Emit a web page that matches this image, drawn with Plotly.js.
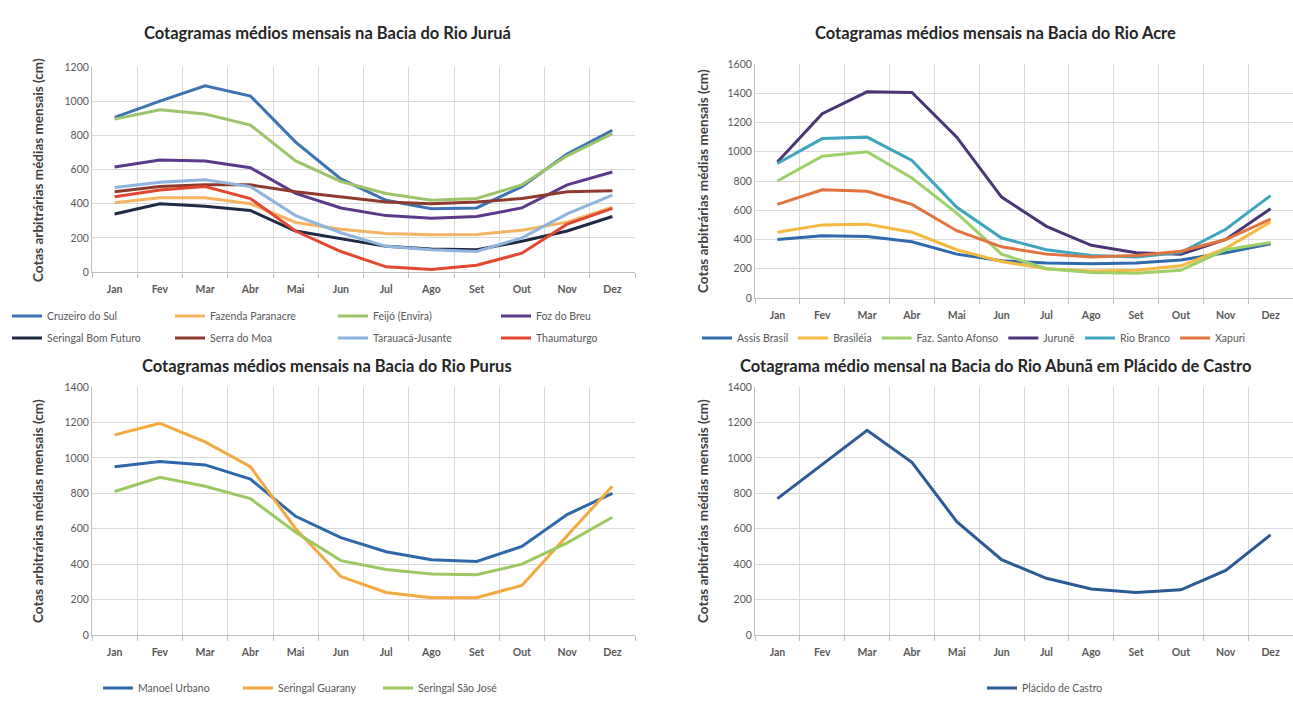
<!DOCTYPE html>
<html>
<head>
<meta charset="utf-8">
<script src="https://cdn.plot.ly/plotly-3.0.1.min.js"></script>
<style>
  html, body { margin: 0; padding: 0; background: #ffffff; }
  #chart { width: 1293px; height: 704px; }
</style>
</head>
<body>
<div id="chart"></div>
<script>
// ---------- data ----------
const months = ['Jan','Fev','Mar','Abr','Mai','Jun','Jul','Ago','Set','Out','Nov','Dez'];

// Bacia do Rio Juruá
const juruaNames = ['Cruzeiro do Sul','Fazenda Paranacre','Feijó (Envira)','Foz do Breu',
                    'Seringal Bom Futuro','Serra do Moa','Tarauacá-Jusante','Thaumaturgo'];
const cruzeiroDoSul    = [905, 1000, 1090, 1030, 760, 545, 420, 370, 375, 500, 690, 830];
const fazendaParanacre = [405, 435, 435, 400, 290, 250, 225, 218, 220, 245, 292, 380];
const feijoEnvira      = [895, 950, 925, 860, 650, 530, 460, 420, 430, 510, 680, 810];
const fozDoBreu        = [615, 655, 650, 610, 460, 375, 330, 315, 325, 375, 510, 585];
const seringalBomFuturo= [340, 400, 385, 360, 240, 195, 150, 135, 130, 180, 240, 325];
const serraDoMoa       = [470, 500, 510, 510, 470, 440, 410, 400, 410, 430, 470, 475];
const tarauacaJusante  = [495, 525, 540, 500, 330, 230, 150, 130, 120, 200, 340, 450];
const thaumaturgo      = [440, 480, 500, 430, 240, 120, 30, 15, 40, 110, 280, 372];

// Bacia do Rio Acre
const acreNames = ['Assis Brasil','Brasiléia','Faz. Santo Afonso','Jurunê','Rio Branco','Xapuri'];
const assisBrasil      = [400, 425, 420, 385, 300, 255, 240, 235, 240, 260, 310, 370];
const brasileia        = [450, 500, 505, 450, 330, 250, 200, 185, 190, 220, 340, 520];
const fazSantoAfonso   = [800, 970, 1000, 820, 580, 300, 200, 175, 170, 190, 330, 380];
const jurune           = [930, 1260, 1410, 1405, 1100, 690, 490, 360, 310, 300, 400, 610];
const rioBranco        = [920, 1090, 1100, 940, 620, 410, 330, 290, 280, 310, 470, 700];
const xapuri           = [640, 740, 730, 640, 460, 350, 300, 280, 290, 320, 400, 540];

// Bacia do Rio Purus
const purusNames = ['Manoel Urbano','Seringal Guarany','Seringal São José'];
const manoelUrbano     = [950, 980, 960, 880, 670, 550, 470, 425, 415, 500, 680, 800];
const seringalGuarany  = [1130, 1195, 1090, 950, 600, 330, 240, 210, 210, 280, 560, 840];
const seringalSaoJose  = [810, 890, 840, 770, 580, 420, 370, 345, 340, 400, 520, 665];

// Bacia do Rio Abunã
const abunaNames = ['Plácido de Castro'];
const placidoDeCastro  = [770, 960, 1155, 975, 640, 425, 320, 260, 240, 255, 365, 565];

const titles = [
  'Cotagramas médios mensais na Bacia do Rio Juruá',
  'Cotagramas médios mensais na Bacia do Rio Acre',
  'Cotagramas médios mensais na Bacia do Rio Purus',
  'Cotagrama médio mensal na Bacia do Rio Abunã em Plácido de Castro'
];
const yTitle = 'Cotas arbitrárias médias mensais (cm)';

// ---------- styles ----------
const juruaColors = ['#3D73B4','#F4B461','#9CC46A','#5B3A8C','#1E2B45','#8E3B2E','#8FB4DE','#E2472F'];
const acreColors  = ['#3069AC','#F5B840','#9ED06A','#4A3575','#3FA5BE','#E0733E'];
const purusColors = ['#2E68A8','#F2A93F','#9CC862'];
const abunaColors = ['#2C5A94'];

const W = 1293, H = 704;
const px = v => v / W;
const py = v => 1 - v / H;
const FONT = 'Lato, "Open Sans", sans-serif';

function mk(name, y, color, xa, ya, leg) {
  return { type: 'scatter', mode: 'lines', name: name, x: months, y: y,
           xaxis: xa, yaxis: ya, legend: leg,
           line: { color: color, width: 3 }, hoverinfo: 'skip' };
}

const juruaData = [cruzeiroDoSul, fazendaParanacre, feijoEnvira, fozDoBreu,
                   seringalBomFuturo, serraDoMoa, tarauacaJusante, thaumaturgo];
const acreData  = [assisBrasil, brasileia, fazSantoAfonso, jurune, rioBranco, xapuri];
const purusData = [manoelUrbano, seringalGuarany, seringalSaoJose];
const abunaData = [placidoDeCastro];

const traces = [];
juruaData.forEach((d, i) => traces.push(mk(juruaNames[i], d, juruaColors[i], 'x', 'y', i < 4 ? 'legend' : 'legend2')));
acreData.forEach((d, i) => traces.push(mk(acreNames[i], d, acreColors[i], 'x2', 'y2', 'legend3')));
purusData.forEach((d, i) => traces.push(mk(purusNames[i], d, purusColors[i], 'x3', 'y3', 'legend4')));
abunaData.forEach((d, i) => traces.push(mk(abunaNames[i], d, abunaColors[i], 'x4', 'y4', 'legend5')));

function xAxis(domain, anchor) {
  return {
    domain: domain, anchor: anchor, type: 'category', range: [-0.5, 11.5],
    tickson: 'boundaries', showgrid: true, gridcolor: '#D9D9D9', gridwidth: 1,
    showline: true, linecolor: '#BFBFBF', linewidth: 1,
    ticks: 'outside', ticklen: 5, tickcolor: '#BFBFBF', ticklabelstandoff: 7,
    tickfont: { family: FONT, size: 10.5, color: '#595959', weight: 'bold' },
    fixedrange: true, zeroline: false
  };
}
function yAxis(domain, anchor, max) {
  return {
    domain: domain, anchor: anchor, range: [0, max], dtick: 200, tick0: 0,
    showgrid: true, gridcolor: '#D9D9D9', gridwidth: 1,
    showline: true, linecolor: '#BFBFBF', linewidth: 1,
    ticks: '', zeroline: false,
    tickfont: { family: FONT, size: 10.5, color: '#595959' },
    fixedrange: true
  };
}

const xL = [px(92), px(635)];
const xR = [px(755), 1];

const legBase = {
  orientation: 'h', xanchor: 'left', yanchor: 'middle', bgcolor: 'rgba(0,0,0,0)',
  font: { family: FONT, size: 10.5, color: '#595959' }, tracegroupgap: 0, itemclick: false, itemdoubleclick: false
};

const layout = {
  width: W, height: H,
  margin: { l: 0, r: 0, t: 0, b: 0, autoexpand: false },
  paper_bgcolor: '#ffffff', plot_bgcolor: '#ffffff',
  showlegend: true,
  xaxis:  xAxis(xL, 'y'),
  yaxis:  yAxis([py(272), py(67)], 'x', 1200),
  xaxis2: xAxis(xR, 'y2'),
  yaxis2: yAxis([py(298), py(64)], 'x2', 1600),
  xaxis3: xAxis(xL, 'y3'),
  yaxis3: yAxis([py(635), py(387)], 'x3', 1400),
  xaxis4: xAxis(xR, 'y4'),
  yaxis4: yAxis([py(635), py(387)], 'x4', 1400),
  legend:  Object.assign({}, legBase, { x: px(7), y: py(316), entrywidth: 118, entrywidthmode: 'pixels' }),
  legend2: Object.assign({}, legBase, { x: px(7), y: py(338), entrywidth: 118, entrywidthmode: 'pixels' }),
  legend3: Object.assign({}, legBase, { x: px(697), y: py(338) }),
  legend4: Object.assign({}, legBase, { x: px(98), y: py(688), entrywidth: 95, entrywidthmode: 'pixels' }),
  legend5: Object.assign({}, legBase, { x: px(1045), xanchor: 'center', y: py(688) }),
  annotations: [
    { text: titles[0], x: px(327), y: py(33) },
    { text: titles[1], x: px(995), y: py(33) },
    { text: titles[2], x: px(327), y: py(366) },
    { text: titles[3], x: px(995), y: py(366) }
  ].map(a => Object.assign(a, {
    xref: 'paper', yref: 'paper', xanchor: 'center', yanchor: 'middle', showarrow: false,
    font: { family: FONT, size: 16.5, color: '#262626', weight: 'bold' }
  })).concat([
    { x: px(38), y: py(170) },
    { x: px(703), y: py(181) },
    { x: px(38), y: py(511) },
    { x: px(703), y: py(511) }
  ].map(a => Object.assign(a, {
    text: yTitle, textangle: -90, xref: 'paper', yref: 'paper',
    xanchor: 'center', yanchor: 'middle', showarrow: false,
    font: { family: FONT, size: 13.5, color: '#404040', weight: 'bold' }
  })))
};

Plotly.newPlot('chart', traces, layout, { displayModeBar: false, staticPlot: true });
</script>
</body>
</html>
